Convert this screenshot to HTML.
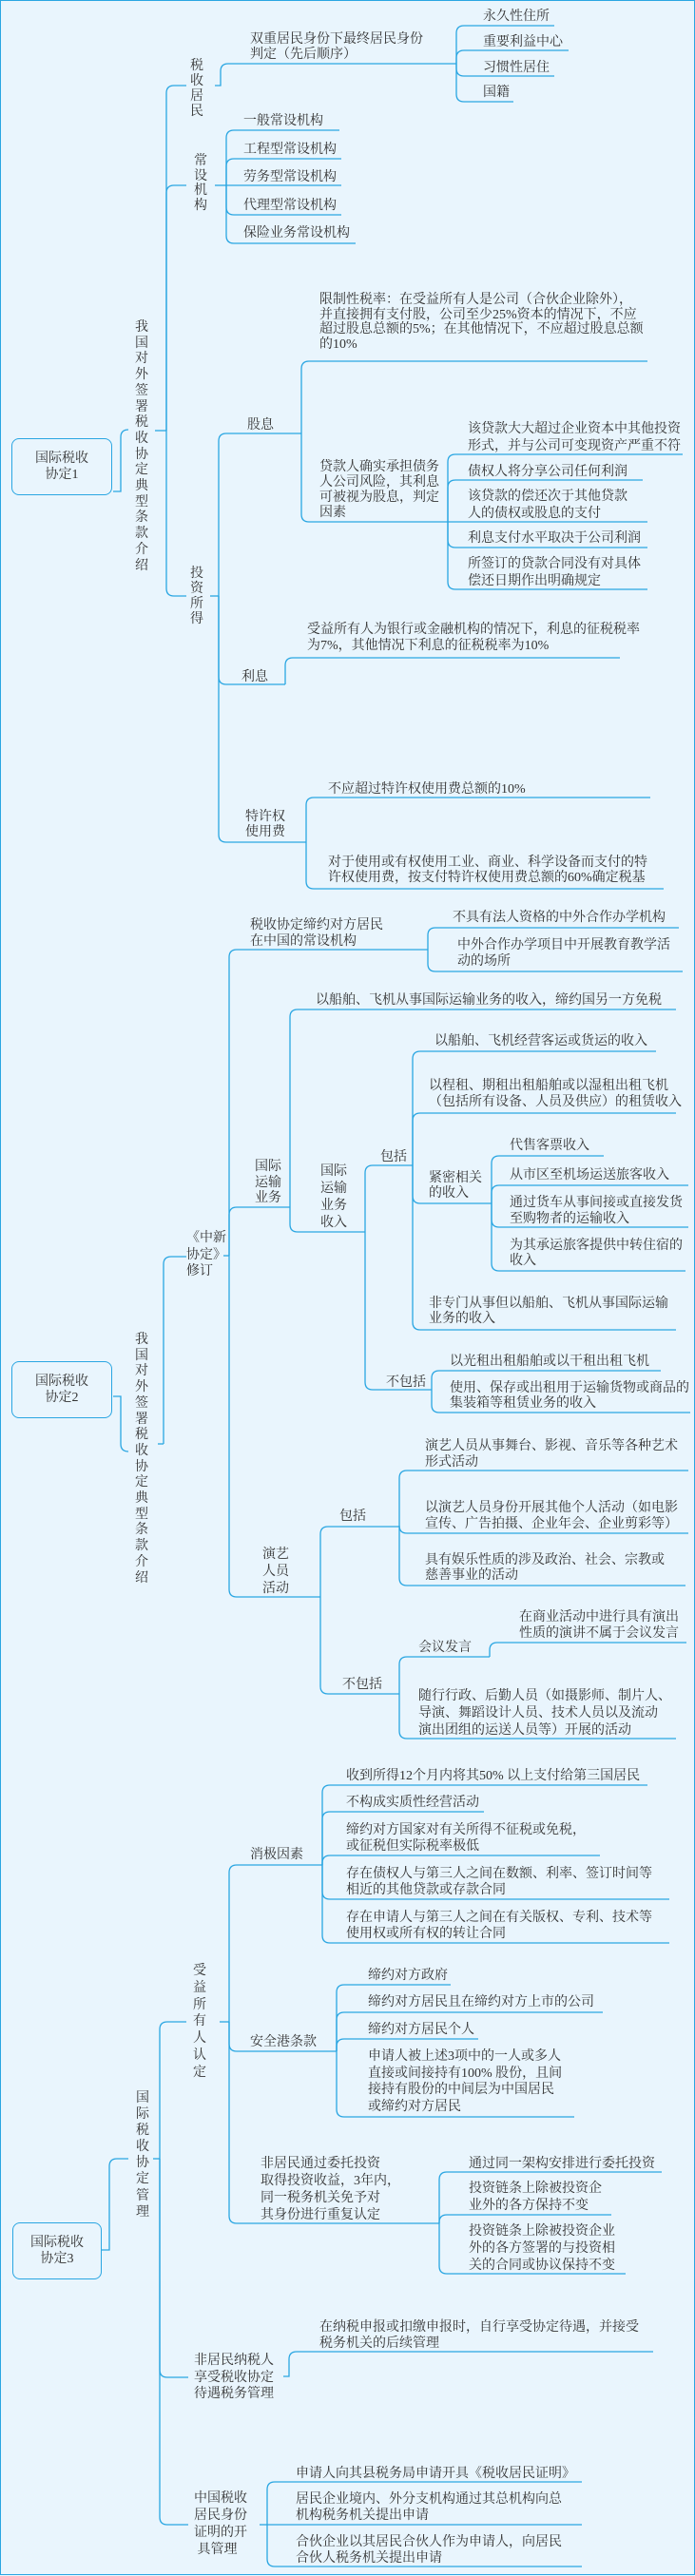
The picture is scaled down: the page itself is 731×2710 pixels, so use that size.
<!DOCTYPE html>
<html><head><meta charset="utf-8">
<style>
html,body{margin:0;padding:0;}
body{width:731px;height:2710px;position:relative;background:#e9f5fd;overflow:hidden;
font-family:"Liberation Serif","Noto Serif CJK SC",serif;color:#333;font-size:14px;}
.frame{position:absolute;left:0;top:0;width:729px;height:2707px;border:1px solid #2aa6e2;}
.t{position:absolute;line-height:17px;white-space:nowrap;}
.v{position:absolute;text-align:center;width:16px;}
.box{position:absolute;border:1.5px solid #2aa6e2;border-radius:8px;text-align:center;display:flex;align-items:center;justify-content:center;line-height:17px;}
svg{position:absolute;left:0;top:0;}
path{fill:none;stroke:#2aa6e2;stroke-width:1.3;}
</style></head><body>
<div class="frame"></div>
<svg width="731" height="2710">
<path d="M119 517 H127 V460 Q127 452 135 452"/>
<path d="M163 453 H175"/>
<path d="M175 453 V98 Q175 90 183 90 H196"/>
<path d="M175 453 V203 Q175 195 183 195 H196"/>
<path d="M175 453 V619 Q175 627 183 627 H196"/>
<path d="M226 90 H232 V75 Q232 67 240 67 H480"/>
<path d="M480 67 V35 Q480 27 488 27 H583"/>
<path d="M480 67 V61 Q480 53 488 53 H598"/>
<path d="M480 67 V72 Q480 80 488 80 H583"/>
<path d="M480 67 V99 Q480 107 488 107 H540"/>
<path d="M226 195 H238"/>
<path d="M238 195 V145 Q238 137 246 137 H357"/>
<path d="M238 195 V175 Q238 167 246 167 H359"/>
<path d="M238 195 H359"/>
<path d="M238 195 V218 Q238 226 246 226 H359"/>
<path d="M238 195 V248 Q238 256 246 256 H374"/>
<path d="M221 627 H230"/>
<path d="M230 627 V464 Q230 456 238 456 H317"/>
<path d="M230 627 V712 Q230 720 238 720 H300"/>
<path d="M230 627 V878 Q230 886 238 886 H322"/>
<path d="M317 456 V388 Q317 380 325 380 H681"/>
<path d="M317 456 V541 Q317 549 325 549 H471"/>
<path d="M471 549 V486 Q471 478 479 478 H718"/>
<path d="M471 549 V513 Q471 505 479 505 H676"/>
<path d="M471 549 H681"/>
<path d="M471 549 V568 Q471 576 479 576 H681"/>
<path d="M471 549 V612 Q471 620 479 620 H681"/>
<path d="M300 720 V700 Q300 692 308 692 H652"/>
<path d="M322 886 V847 Q322 839 330 839 H684"/>
<path d="M322 886 V927 Q322 935 330 935 H698"/>
<path d="M119 1469 H127 V1519 Q127 1527 135 1527"/>
<path d="M166 1519 H172"/>
<path d="M172 1519 V1330 Q172 1322 180 1322 H196"/>
<path d="M235 1321 H241"/>
<path d="M241 1321 V1007 Q241 999 249 999 H450"/>
<path d="M241 1321 V1278 Q241 1270 249 1270 H305"/>
<path d="M241 1321 V1672 Q241 1680 249 1680 H337"/>
<path d="M450 999 V984 Q450 976 458 976 H714"/>
<path d="M450 999 V1014 Q450 1022 458 1022 H718"/>
<path d="M305 1270 V1070 Q305 1062 313 1062 H711"/>
<path d="M305 1270 V1288 Q305 1296 313 1296 H384"/>
<path d="M384 1296 V1234 Q384 1226 392 1226 H434"/>
<path d="M384 1296 V1454 Q384 1462 392 1462 H454"/>
<path d="M434 1226 V1114 Q434 1106 442 1106 H690"/>
<path d="M434 1226 V1179 Q434 1171 442 1171 H711"/>
<path d="M434 1226 V1258 Q434 1266 442 1266 H517"/>
<path d="M434 1226 V1391 Q434 1399 442 1399 H711"/>
<path d="M517 1266 V1224 Q517 1216 525 1216 H635"/>
<path d="M517 1266 V1255 Q517 1247 525 1247 H724"/>
<path d="M517 1266 V1283 Q517 1291 525 1291 H724"/>
<path d="M517 1266 V1329 Q517 1337 525 1337 H721"/>
<path d="M454 1462 V1450 Q454 1442 462 1442 H695"/>
<path d="M454 1462 V1478 Q454 1486 462 1486 H726"/>
<path d="M337 1680 V1614 Q337 1606 345 1606 H420"/>
<path d="M337 1680 V1774 Q337 1782 345 1782 H420"/>
<path d="M420 1606 V1555 Q420 1547 428 1547 H724"/>
<path d="M420 1606 V1605 Q420 1613 428 1613 H724"/>
<path d="M420 1606 V1660 Q420 1668 428 1668 H721"/>
<path d="M420 1782 V1751 Q420 1743 428 1743 H515"/>
<path d="M420 1782 V1821 Q420 1829 428 1829 H711"/>
<path d="M515 1743 V1736 Q515 1728 523 1728 H722"/>
<path d="M107 2367 H115 V2279 Q115 2271 123 2271 H135"/>
<path d="M161 2271 H168"/>
<path d="M168 2271 V2135 Q168 2127 176 2127 H196"/>
<path d="M168 2271 V2493 Q168 2501 176 2501 H198"/>
<path d="M168 2271 V2648 Q168 2656 176 2656 H198"/>
<path d="M231 2127 H241"/>
<path d="M241 2127 V1970 Q241 1962 249 1962 H339"/>
<path d="M241 2127 V2150 Q241 2158 249 2158 H354"/>
<path d="M241 2127 V2331 Q241 2339 249 2339 H462"/>
<path d="M339 1962 V1886 Q339 1878 347 1878 H681"/>
<path d="M339 1962 V1914 Q339 1906 347 1906 H509"/>
<path d="M339 1962 V1960 Q339 1952 347 1952 H631"/>
<path d="M339 1962 V1990 Q339 1998 347 1998 H704"/>
<path d="M339 1962 V2036 Q339 2044 347 2044 H704"/>
<path d="M354 2158 V2096 Q354 2088 362 2088 H474"/>
<path d="M354 2158 V2125 Q354 2117 362 2117 H634"/>
<path d="M354 2158 V2153 Q354 2145 362 2145 H503"/>
<path d="M354 2158 V2219 Q354 2227 362 2227 H604"/>
<path d="M462 2339 V2293 Q462 2285 470 2285 H696"/>
<path d="M462 2339 V2338 Q462 2330 470 2330 H643"/>
<path d="M462 2339 V2384 Q462 2392 470 2392 H658"/>
<path d="M298 2500 H304 V2482 Q304 2474 312 2474 H687"/>
<path d="M273 2656 H281"/>
<path d="M281 2656 V2619 Q281 2611 289 2611 H612"/>
<path d="M281 2656 H612"/>
<path d="M281 2656 V2692 Q281 2700 289 2700 H612"/>
</svg>

<div class="box" style="left:12px;top:461px;width:104px;height:58px;">国际税收<br>协定1</div>
<div class="box" style="left:12px;top:1432px;width:104px;height:58px;">国际税收<br>协定2</div>
<div class="box" style="left:13px;top:2338px;width:92px;height:58px;">国际税收<br>协定3</div>

<div class="v t" style="left:141px;top:337px;line-height:16.7px;">我<br>国<br>对<br>外<br>签<br>署<br>税<br>收<br>协<br>定<br>典<br>型<br>条<br>款<br>介<br>绍</div>
<div class="v t" style="left:199px;top:62px;line-height:16px;">税<br>收<br>居<br>民</div>
<div class="v t" style="left:203px;top:162px;line-height:15.7px;">常<br>设<br>机<br>构</div>
<div class="v t" style="left:199px;top:596px;line-height:16px;">投<br>资<br>所<br>得</div>
<div class="v t" style="left:141px;top:1402px;line-height:16.7px;">我<br>国<br>对<br>外<br>签<br>署<br>税<br>收<br>协<br>定<br>典<br>型<br>条<br>款<br>介<br>绍</div>
<div class="v t" style="left:142px;top:2199px;line-height:17.1px;">国<br>际<br>税<br>收<br>协<br>定<br>管<br>理</div>
<div class="v t" style="left:202px;top:2065px;line-height:17.8px;">受<br>益<br>所<br>有<br>人<br>认<br>定</div>

<div class="t" style="left:263px;top:34px;line-height:16px;">双重居民身份下最终居民身份<br>判定（先后顺序）</div>
<div class="t" style="left:508px;top:9px;">永久性住所</div>
<div class="t" style="left:508px;top:36px;">重要利益中心</div>
<div class="t" style="left:508px;top:63px;">习惯性居住</div>
<div class="t" style="left:508px;top:89px;">国籍</div>
<div class="t" style="left:256px;top:119px;">一般常设机构</div>
<div class="t" style="left:256px;top:149px;">工程型常设机构</div>
<div class="t" style="left:256px;top:178px;">劳务型常设机构</div>
<div class="t" style="left:256px;top:208px;">代理型常设机构</div>
<div class="t" style="left:256px;top:237px;">保险业务常设机构</div>
<div class="t" style="left:336px;top:308px;line-height:15.5px;">限制性税率：在受益所有人是公司（合伙企业除外），<br>并直接拥有支付股，公司至少25%资本的情况下，不应<br>超过股息总额的5%；在其他情况下，不应超过股息总额<br>的10%</div>
<div class="t" style="left:260px;top:439px;">股息</div>
<div class="t" style="left:336px;top:484px;line-height:16px;">贷款人确实承担债务<br>人公司风险，其利息<br>可被视为股息，判定<br>因素</div>
<div class="t" style="left:492px;top:443px;line-height:18px;">该贷款大大超过企业资本中其他投资<br>形式，并与公司可变现资产严重不符</div>
<div class="t" style="left:492px;top:488px;">债权人将分享公司任何利润</div>
<div class="t" style="left:492px;top:514px;line-height:18px;">该贷款的偿还次于其他贷款<br>人的债权或股息的支付</div>
<div class="t" style="left:492px;top:558px;">利息支付水平取决于公司利润</div>
<div class="t" style="left:492px;top:585px;line-height:18px;">所签订的贷款合同没有对具体<br>偿还日期作出明确规定</div>
<div class="t" style="left:323px;top:654px;">受益所有人为银行或金融机构的情况下，利息的征税税率<br>为7%，其他情况下利息的征税税率为10%</div>
<div class="t" style="left:254px;top:704px;">利息</div>
<div class="t" style="left:258px;top:852px;line-height:16px;">特许权<br>使用费</div>
<div class="t" style="left:345px;top:822px;">不应超过特许权使用费总额的10%</div>
<div class="t" style="left:345px;top:900px;line-height:16px;">对于使用或有权使用工业、商业、科学设备而支付的特<br>许权使用费，按支付特许权使用费总额的60%确定税基</div>

<div class="t" style="left:196px;top:1294px;line-height:17.5px;">《中新<br>协定》<br>修订</div>
<div class="t" style="left:263px;top:965px;">税收协定缔约对方居民<br>在中国的常设机构</div>
<div class="t" style="left:476px;top:957px;">不具有法人资格的中外合作办学机构</div>
<div class="t" style="left:481px;top:986px;">中外合作办学项目中开展教育教学活<br>动的场所</div>
<div class="t" style="left:268px;top:1220px;line-height:16.5px;">国际<br>运输<br>业务</div>
<div class="t" style="left:332px;top:1044px;">以船舶、飞机从事国际运输业务的收入，缔约国另一方免税</div>
<div class="t" style="left:337px;top:1224px;line-height:18px;">国际<br>运输<br>业务<br>收入</div>
<div class="t" style="left:400px;top:1209px;">包括</div>
<div class="t" style="left:457px;top:1087px;">以船舶、飞机经营客运或货运的收入</div>
<div class="t" style="left:451px;top:1134px;">以程租、期租出租船舶或以湿租出租飞机<br>（包括所有设备、人员及供应）的租赁收入</div>
<div class="t" style="left:451px;top:1232px;line-height:16px;">紧密相关<br>的收入</div>
<div class="t" style="left:536px;top:1197px;">代售客票收入</div>
<div class="t" style="left:536px;top:1228px;">从市区至机场运送旅客收入</div>
<div class="t" style="left:536px;top:1257px;">通过货车从事间接或直接发货<br>至购物者的运输收入</div>
<div class="t" style="left:536px;top:1303px;line-height:16px;">为其承运旅客提供中转住宿的<br>收入</div>
<div class="t" style="left:451px;top:1364px;line-height:16px;">非专门从事但以船舶、飞机从事国际运输<br>业务的收入</div>
<div class="t" style="left:406px;top:1446px;">不包括</div>
<div class="t" style="left:473px;top:1424px;">以光租出租船舶或以干租出租飞机</div>
<div class="t" style="left:473px;top:1453px;line-height:16px;">使用、保存或出租用于运输货物或商品的<br>集装箱等租赁业务的收入</div>
<div class="t" style="left:276px;top:1627px;line-height:18px;">演艺<br>人员<br>活动</div>
<div class="t" style="left:357px;top:1587px;">包括</div>
<div class="t" style="left:447px;top:1513px;">演艺人员从事舞台、影视、音乐等各种艺术<br>形式活动</div>
<div class="t" style="left:447px;top:1578px;">以演艺人员身份开展其他个人活动（如电影<br>宣传、广告拍摄、企业年会、企业剪彩等）</div>
<div class="t" style="left:447px;top:1634px;line-height:16px;">具有娱乐性质的涉及政治、社会、宗教或<br>慈善事业的活动</div>
<div class="t" style="left:360px;top:1764px;">不包括</div>
<div class="t" style="left:440px;top:1725px;">会议发言</div>
<div class="t" style="left:546px;top:1693px;">在商业活动中进行具有演出<br>性质的演讲不属于会议发言</div>
<div class="t" style="left:440px;top:1776px;line-height:18px;">随行行政、后勤人员（如摄影师、制片人、<br>导演、舞蹈设计人员、技术人员以及流动<br>演出团组的运送人员等）开展的活动</div>

<div class="t" style="left:263px;top:1943px;">消极因素</div>
<div class="t" style="left:364px;top:1860px;">收到所得12个月内将其50% 以上支付给第三国居民</div>
<div class="t" style="left:364px;top:1888px;">不构成实质性经营活动</div>
<div class="t" style="left:364px;top:1917px;">缔约对方国家对有关所得不征税或免税，<br>或征税但实际税率极低</div>
<div class="t" style="left:364px;top:1963px;">存在债权人与第三人之间在数额、利率、签订时间等<br>相近的其他贷款或存款合同</div>
<div class="t" style="left:364px;top:2009px;">存在申请人与第三人之间在有关版权、专利、技术等<br>使用权或所有权的转让合同</div>
<div class="t" style="left:263px;top:2140px;">安全港条款</div>
<div class="t" style="left:387px;top:2070px;">缔约对方政府</div>
<div class="t" style="left:387px;top:2098px;">缔约对方居民且在缔约对方上市的公司</div>
<div class="t" style="left:387px;top:2127px;">缔约对方居民个人</div>
<div class="t" style="left:387px;top:2155px;line-height:17.7px;">申请人被上述3项中的一人或多人<br>直接或间接持有100% 股份，且间<br>接持有股份的中间层为中国居民<br>或缔约对方居民</div>
<div class="t" style="left:274px;top:2268px;line-height:18px;">非居民通过委托投资<br>取得投资收益，3年内，<br>同一税务机关免予对<br>其身份进行重复认定</div>
<div class="t" style="left:493px;top:2268px;">通过同一架构安排进行委托投资</div>
<div class="t" style="left:493px;top:2294px;line-height:18px;">投资链条上除被投资企<br>业外的各方保持不变</div>
<div class="t" style="left:493px;top:2339px;line-height:18px;">投资链条上除被投资企业<br>外的各方签署的与投资相<br>关的合同或协议保持不变</div>
<div class="t" style="left:204px;top:2475px;line-height:17.5px;">非居民纳税人<br>享受税收协定<br>待遇税务管理</div>
<div class="t" style="left:336px;top:2440px;">在纳税申报或扣缴申报时，自行享受协定待遇，并接受<br>税务机关的后续管理</div>
<div class="t" style="left:204px;top:2620px;line-height:18px;">中国税收<br>居民身份<br>证明的开<br>&nbsp;具管理</div>
<div class="t" style="left:311px;top:2594px;">申请人向其县税务局申请开具《税收居民证明》</div>
<div class="t" style="left:311px;top:2621px;">居民企业境内、外分支机构通过其总机构向总<br>机构税务机关提出申请</div>
<div class="t" style="left:311px;top:2666px;">合伙企业以其居民合伙人作为申请人，向居民<br>合伙人税务机关提出申请</div>
</body></html>
